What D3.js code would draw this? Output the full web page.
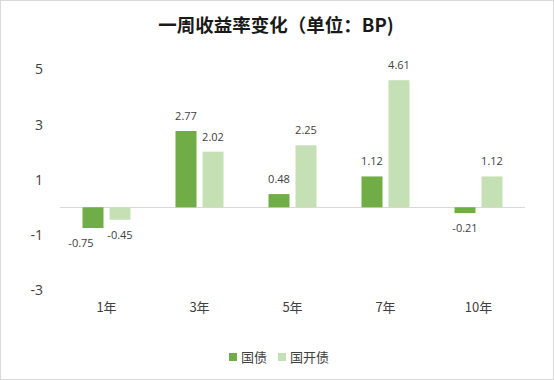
<!DOCTYPE html>
<html>
<head>
<meta charset="utf-8">
<script src="https://cdn.jsdelivr.net/npm/d3@7/dist/d3.min.js"></script>
<style>
  body { margin: 0; background: #fff; }
  svg { display: block; }
</style>
</head>
<body>
<svg id="chart"></svg>
<script>
// chart data
var categories = ["1年", "3年", "5年", "7年", "10年"];
var seriesNames = ["国债", "国开债"];
var govBond = [-0.75, 2.77, 0.48, 1.12, -0.21];
var cdbBond = [-0.45, 2.02, 2.25, 4.61, 1.12];
var yTicks = [-3, -1, 1, 3, 5];

var width = 554, height = 380;
var colors = ["#70ad47", "#c5e0b4"];
var numFont = "'Open Sans', 'Noto Sans CJK SC', sans-serif";
var cjkFont = "'Noto Sans CJK SC', sans-serif";

var svg = d3.select("#chart")
    .attr("width", width)
    .attr("height", height);

// outer border
svg.append("rect")
    .attr("x", 0.5).attr("y", 0.5)
    .attr("width", width - 1).attr("height", height - 1)
    .attr("fill", "#fff")
    .attr("stroke", "#d9d9d9");

// title
svg.append("text")
    .attr("x", 276).attr("y", 32)
    .attr("text-anchor", "middle")
    .style("font-family", cjkFont)
    .style("font-size", "18.5px")
    .style("font-weight", "bold")
    .style("fill", "#1a1a1a")
    .text("一周收益率变化（单位：BP)");

var plotLeft = 60, plotRight = 525;

var xScale = d3.scaleBand()
    .domain(categories)
    .range([plotLeft, plotRight]);

var yScale = d3.scaleLinear()
    .domain([-3, 5])
    .range([290, 69.5]);

var barW = 21, barGap = 6;

// y tick labels (plain hyphen minus like the original)
var yAxis = d3.axisLeft(yScale)
    .tickValues(yTicks)
    .tickFormat(function (d) { return String(d); })
    .tickSize(0).tickPadding(0);
var gy = svg.append("g")
    .attr("transform", "translate(43,0)")
    .call(yAxis);
gy.select(".domain").remove();
gy.selectAll("text")
    .style("font-family", numFont)
    .style("font-size", "14px")
    .style("fill", "#404040");

// zero line
svg.append("line")
    .attr("x1", plotLeft).attr("x2", plotRight)
    .attr("y1", Math.round(yScale(0)) + 0.5)
    .attr("y2", Math.round(yScale(0)) + 0.5)
    .attr("stroke", "#d9d9d9")
    .attr("stroke-width", 1);

// x category labels
var xAxis = d3.axisBottom(xScale).tickSize(0).tickPadding(0);
var gx = svg.append("g")
    .attr("transform", "translate(0,303)")
    .call(xAxis);
gx.select(".domain").remove();
gx.selectAll("text")
    .style("font-family", cjkFont)
    .style("font-size", "13px")
    .style("fill", "#404040");

// bars
var seriesData = [govBond, cdbBond];
seriesData.forEach(function (vals, s) {
    var data = categories.map(function (c, i) {
        return { cat: c, value: vals[i], other: seriesData[1 - s][i] };
    });
    var offset = s === 0 ? -(barW + barGap / 2) : barGap / 2;

    svg.append("g").selectAll("rect")
        .data(data)
        .enter()
        .append("rect")
        .attr("x", function (d) { return xScale(d.cat) + xScale.bandwidth() / 2 + offset; })
        .attr("y", function (d) { return yScale(Math.max(0, d.value)); })
        .attr("width", barW)
        .attr("height", function (d) { return Math.abs(yScale(d.value) - yScale(0)); })
        .attr("fill", colors[s]);

    svg.append("g").selectAll("text")
        .data(data)
        .enter()
        .append("text")
        .attr("x", function (d) {
            var cx = xScale(d.cat) + xScale.bandwidth() / 2 + offset + barW / 2;
            // nudge neighbouring negative labels apart
            if (s === 0 && d.value < 0 && d.other < 0) cx -= 12;
            return cx;
        })
        .attr("y", function (d) {
            return d.value >= 0 ? yScale(d.value) - 11 : yScale(d.value) + 19;
        })
        .attr("text-anchor", "middle")
        .style("font-family", numFont)
        .style("font-size", "11px")
        .style("fill", "#404040")
        .text(function (d) { return d.value.toFixed(2); });
});

// legend
var legendItems = [
    { name: seriesNames[0], x: 229 },
    { name: seriesNames[1], x: 278 }
];
var lg = svg.append("g");
legendItems.forEach(function (d, i) {
    lg.append("rect")
        .attr("x", d.x).attr("y", 353)
        .attr("width", 8).attr("height", 8)
        .attr("fill", colors[i]);
    lg.append("text")
        .attr("x", d.x + 12).attr("y", 362)
        .style("font-family", cjkFont)
        .style("font-size", "13px")
        .style("fill", "#404040")
        .text(d.name);
});
</script>
</body>
</html>
